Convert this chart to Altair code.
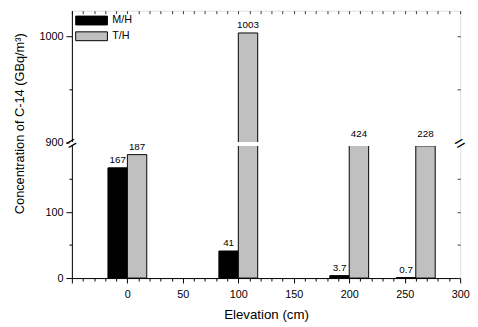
import altair as alt
import pandas as pd

# ---- data ----
elevations = [0, 100, 200, 260]
mh_values = [167, 41, 3.7, 0.7]
th_values = [187, 1003, 424, 228]
mh_labels = ["167", "41", "3.7", "0.7"]
th_labels = ["187", "1003", "424", "228"]
series_names = ["M/H", "T/H"]
series_colors = ["#000000", "#c0c0c0"]

# axis / break configuration
x_minor = list(range(-50, 301, 10))
y_ticks = [0, 50, 100, 150, 900, 950, 1000]
BAR_W = 17.5
X_DOMAIN = [-50, 300]
Y_DOMAIN = [0, 200, 900, 1024]
Y_RANGE = [272, 137.7, 133.7, 0]
GAP = [200, 900]

rows = []
for e, m, t, ml, tl in zip(elevations, mh_values, th_values, mh_labels, th_labels):
    rows.append(dict(series="M/H", value=m, label=ml, x1=e - BAR_W, x2=e, base=0))
    rows.append(dict(series="T/H", value=t, label=tl, x1=e, x2=e + BAR_W, base=0))
df = pd.DataFrame(rows)
df["xc"] = (df["x1"] + df["x2"]) / 2
df["ly"] = df["value"].where((df["value"] <= GAP[0]) | (df["value"] >= GAP[1]), GAP[1])

gap_df = pd.DataFrame({"gx1": [X_DOMAIN[0] - 2], "gx2": [X_DOMAIN[1] + 2],
                       "gy1": [GAP[0]], "gy2": [GAP[1]]})
brk_df = pd.DataFrame({"bx": [X_DOMAIN[0], X_DOMAIN[1]],
                       "by": [(GAP[0] + GAP[1]) / 2] * 2})

FONT = "Liberation Sans"
xs = alt.Scale(domain=X_DOMAIN, nice=False, zero=False)
ys = alt.Scale(domain=Y_DOMAIN, range=Y_RANGE, nice=False, zero=False)

x_axis = alt.Axis(
    values=x_minor, format="d",
    labelExpr="(datum.value % 50 === 0 && datum.value >= 0) ? datum.label : ''",
    tickSize={"condition": {"test": "datum.value % 50 === 0", "value": 5}, "value": 3},
    labelPadding=6, labelFontSize=11, labelFont=FONT, labelColor="black",
    labelOverlap=False, labelFlush=False,
    domainColor="black", tickColor="black", grid=False,
    title="Elevation (cm)", titleFont=FONT, titleFontSize=13.5,
    titleFontWeight="normal", titleColor="black",
    titleX=197.5, titleY=37, titleBaseline="middle", titleAlign="center",
)
y_axis = alt.Axis(
    values=y_ticks, format="d",
    labelExpr="datum.value % 100 === 0 ? datum.label : ''",
    tickSize={"condition": {"test": "datum.value % 100 === 0", "value": 6}, "value": 3},
    labelPadding=3, labelFontSize=11, labelFont=FONT, labelColor="black",
    labelOverlap=False, labelFlush=False,
    domainColor="black", tickColor="black", grid=False,
    title="Concentration of C-14 (GBq/m³)", titleFont=FONT, titleFontSize=13,
    titleFontWeight="normal", titleColor="black", titleAngle=270,
    titleX=-53, titleY=114.5, titleBaseline="middle", titleAlign="center",
)
top_axis = alt.Axis(orient="top", values=x_minor, labels=False, domain=False,
                    tickSize=3, offset=-3, tickColor="#333", grid=False, title=None)
right_axis = alt.Axis(orient="right", values=y_ticks, labels=False, domain=False,
                      tickSize=3, offset=-3, tickColor="#333", grid=False, title=None)

bars = alt.Chart(df).mark_bar(stroke="black", strokeWidth=1).encode(
    x=alt.X("x1:Q", scale=xs, axis=x_axis),
    x2="x2:Q",
    y=alt.Y("value:Q", scale=ys, axis=y_axis),
    y2="base:Q",
    color=alt.Color(
        "series:N",
        scale=alt.Scale(domain=series_names, range=series_colors),
        legend=alt.Legend(
            orient="none", legendX=12, legendY=2, title=None, padding=0,
            symbolType="M-2.15,-0.6H2.15V0.6H-2.15Z", symbolSize=225,
            symbolStrokeColor="black", symbolStrokeWidth=1, symbolOpacity=1,
            labelFontSize=11, labelFont=FONT, labelColor="black",
            labelOffset=13, rowPadding=1,
        ),
    ),
)

gap = alt.Chart(gap_df).mark_rect(fill="white").encode(
    x=alt.X("gx1:Q", scale=xs, axis=None),
    x2="gx2:Q",
    y=alt.Y("gy1:Q", scale=ys, axis=None),
    y2="gy2:Q",
)

labels = alt.Chart(df).mark_text(
    baseline="alphabetic", align="center", dy=-5, fontSize=10, font=FONT, color="black"
).encode(
    x=alt.X("xc:Q", scale=xs, axis=None),
    y=alt.Y("ly:Q", scale=ys, axis=None),
    text="label:N",
)

breaks = alt.Chart(brk_df).mark_text(
    text="=", fontSize=18, angle=330, font=FONT, color="black", baseline="middle"
).encode(
    x=alt.X("bx:Q", scale=xs, axis=top_axis),
    y=alt.Y("by:Q", scale=ys, axis=right_axis),
)

chart = alt.layer(bars, gap, labels, breaks).resolve_axis(
    x="independent", y="independent"
).properties(
    width=395, height=272,
    autosize=alt.AutoSizeParams(type="none"),
    padding={"left": 65, "top": 0, "right": 10, "bottom": 45},
).configure_view(stroke="black", strokeWidth=1).configure(font=FONT)

chart.save("out.html", embed_options={"renderer": "svg", "actions": False})
